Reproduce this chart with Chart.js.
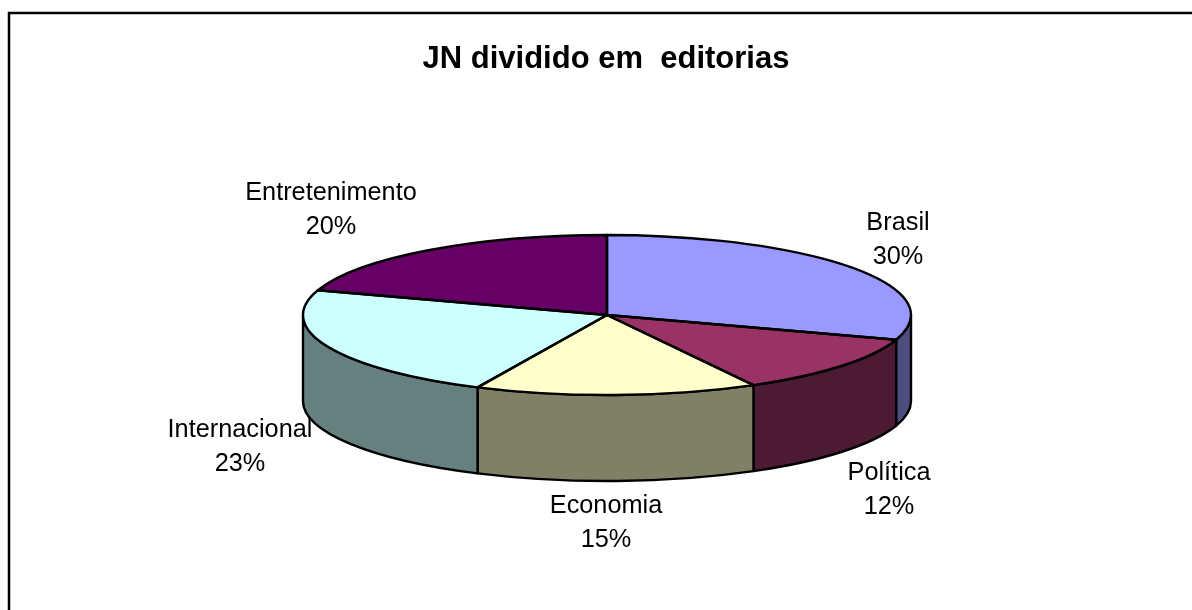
<!DOCTYPE html>
<html>
<head>
<meta charset="utf-8">
<title>JN dividido em editorias</title>
<script src="https://cdn.jsdelivr.net/npm/chart.js@4"></script>
<style>
    html, body { margin: 0; padding: 0; background: #fff; }
    canvas { display: block; }
</style>
</head>
<body>
<canvas id="pieChart" width="1192" height="610"></canvas>
<script>
const chartTitle = "JN dividido em  editorias";
const categories = ["Brasil", "Política", "Economia", "Internacional", "Entretenimento"];
const shares = [30, 12, 15, 23, 20];

const topColors = ["#9999FF", "#993366", "#FFFFCC", "#CCFFFF", "#660066"];
const wallColors = ["#4D4D80", "#4D1A33", "#808066", "#668080", "#330033"];

// Flattened pie: ellipse on screen and height of the side wall
const pie = { x: 607, y: 315, rx: 304, ry: 80, depth: 86 };

// Centre of each two-line label
const labelAnchors = [
    { x: 898, y: 240 },
    { x: 889, y: 490 },
    { x: 606, y: 523 },
    { x: 240, y: 447 },
    { x: 331, y: 210 }
];
const labelLineHeight = 34;
const labelFont = "25.3px 'Liberation Sans', Arial, sans-serif";

function outline(ctx) {
    ctx.strokeStyle = "#000";
    ctx.lineWidth = 2.4;
    ctx.lineJoin = "round";
    ctx.stroke();
}

const frame3d = {
    id: "frame3d",
    beforeDatasetsDraw(chart) {
        const ctx = chart.ctx;
        const arcs = chart.getDatasetMeta(0).data;

        // Chart frame, only its top and left sides fall inside the canvas
        ctx.save();
        ctx.beginPath();
        ctx.moveTo(9, 610);
        ctx.lineTo(9, 13);
        ctx.lineTo(1192, 13);
        ctx.strokeStyle = "#000";
        ctx.lineWidth = 2.5;
        ctx.stroke();

        // Side wall, only the part of each slice facing the viewer
        arcs.forEach((arc, i) => {
            const from = Math.max(arc.startAngle, 0);
            const to = Math.min(arc.endAngle, Math.PI);
            if (to <= from) return;
            ctx.beginPath();
            ctx.ellipse(pie.x, pie.y, pie.rx, pie.ry, 0, from, to);
            ctx.ellipse(pie.x, pie.y + pie.depth, pie.rx, pie.ry, 0, to, from, true);
            ctx.closePath();
            ctx.fillStyle = wallColors[i];
            ctx.fill();
            outline(ctx);
        });
        ctx.restore();

        // Slices are drawn by Chart.js as a circle, squashed here onto the ellipse
        const first = arcs[0];
        ctx.save();
        ctx.translate(pie.x, pie.y);
        ctx.scale(pie.rx / first.outerRadius, pie.ry / first.outerRadius);
        ctx.translate(-first.x, -first.y);
    },
    afterDatasetsDraw(chart) {
        const ctx = chart.ctx;
        ctx.restore();

        // Outlines go on after the scale is gone so the line width stays even
        chart.getDatasetMeta(0).data.forEach(arc => {
            ctx.save();
            ctx.beginPath();
            ctx.moveTo(pie.x, pie.y);
            ctx.ellipse(pie.x, pie.y, pie.rx, pie.ry, 0, arc.startAngle, arc.endAngle);
            ctx.closePath();
            outline(ctx);
            ctx.restore();
        });

        // Category and percentage labels
        ctx.save();
        ctx.font = labelFont;
        ctx.fillStyle = "#000";
        ctx.textAlign = "center";
        ctx.textBaseline = "middle";
        categories.forEach((name, i) => {
            const a = labelAnchors[i];
            ctx.fillText(name, a.x, a.y - labelLineHeight / 2);
            ctx.fillText(shares[i] + "%", a.x, a.y + labelLineHeight / 2);
        });
        ctx.restore();
    }
};

new Chart(document.getElementById("pieChart"), {
    type: "pie",
    data: {
        labels: categories,
        datasets: [{
            data: shares,
            backgroundColor: topColors,
            borderWidth: 0
        }]
    },
    options: {
        responsive: false,
        animation: false,
        devicePixelRatio: 1,
        layout: { padding: { left: 20 } },
        plugins: {
            legend: { display: false },
            tooltip: { enabled: false },
            title: {
                display: true,
                text: chartTitle,
                color: "#000",
                font: { family: "'Liberation Sans', Arial, sans-serif", size: 31, weight: "bold" },
                padding: { top: 41, bottom: 10 }
            }
        }
    },
    plugins: [frame3d]
});
</script>
</body>
</html>
